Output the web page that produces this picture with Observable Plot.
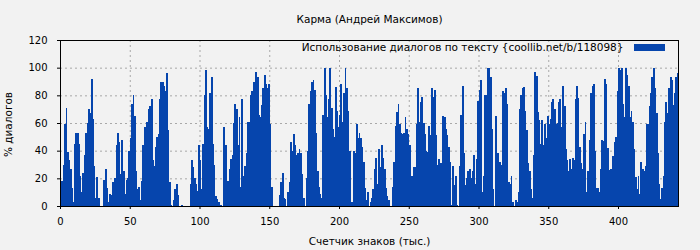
<!DOCTYPE html>
<html><head><meta charset="utf-8">
<script src="https://cdn.jsdelivr.net/npm/d3@7"></script>
<script src="https://cdn.jsdelivr.net/npm/@observablehq/plot@0.6"></script>
<style>
html,body{margin:0;padding:0;background:#f2f2f2;}
</style></head><body><div id="chart"></div>
<script>
const title = "Карма (Андрей Максимов)";
const xLabel = "Счетчик знаков (тыс.)";
const yLabel = "% диалогов";
const seriesName = "Использование диалогов по тексту {coollib.net/b/118098}";
const xTicks = [0, 50, 100, 150, 200, 250, 300, 350, 400];
const yTicks = [0, 20, 40, 60, 80, 100, 120];
const xMax = 443;
// % of dialogue per 1000 characters
const dialogPct = [
  6,18,30,59,71,39,33,27,13,3, 45,53,53,45,22,10,24,37,53,60,
  70,67,92,63,29,6,21,6,0,0, 0,19,27,13,3,9,8,17,12,20,
  44,53,46,23,48,25,9,19,20,40, 49,74,80,65,25,12,14,4,18,44,
  57,28,61,70,72,77,33,29,43,50, 52,77,90,90,87,83,96,55,17,1,
  0,4,12,16,8,0,0,1,0,0, 0,0,0,16,33,28,20,16,11,44,
  33,12,45,80,98,57,56,82,93,45, 30,7,5,3,1,1,0,57,44,3,
  18,27,34,37,60,74,70,44,64,14, 77,22,29,38,61,61,80,83,90,90,
  97,93,66,64,73,85,95,88,85,88, 59,14,0,0,0,0,0,8,17,24,
  6,5,0,10,17,46,40,52,44,37, 38,41,38,23,6,0,20,40,74,83,
  90,91,84,53,25,14,9,6,66,100, 80,64,77,100,71,56,50,86,69,57,
  66,88,61,82,100,85,69,40,3,3, 40,38,59,49,53,49,43,32,13,4,
  10,0,3,6,12,27,35,16,41,28, 44,35,27,13,7,4,0,0,14,32,
  58,68,74,59,53,52,53,64,56,52, 44,22,22,28,28,59,85,61,75,79,
  60,52,40,39,58,51,85,79,84,51, 30,34,31,31,65,64,56,51,43,32,
  1,29,15,22,1,0,29,66,87,38, 15,20,25,27,20,25,37,16,34,76,
  84,91,10,22,80,80,100,100,93,56, 12,0,65,38,32,32,30,83,82,85,
  74,17,16,22,3,0,4,3,10,70, 80,85,86,69,55,31,25,12,6,37,
  97,94,68,62,45,62,44,59,49,65, 59,63,75,77,70,59,60,75,77,57,
  87,72,41,33,25,34,27,35,33,77, 87,78,43,31,27,52,61,10,25,48,
  82,87,88,40,13,13,10,27,48,47, 92,88,42,26,27,17,36,46,50,83,
  100,98,100,74,64,100,95,87,64,69, 61,41,21,12,22,9,32,27,25,29,
  59,59,72,82,93,100,85,67,38,16, 5,13,22,61,75,67,85,93,91,73,
  82,93,96
];

const barColor = "#0645ad";
const bg = "#f2f2f2";
const gridColor = "#a8a8a8";
const W = 700, H = 250, mL = 60, mR = 22, mT = 40, mB = 44;

const data = dialogPct.map((v, i) => ({start: i, end: i + 1, pct: v}));

const font = "DejaVu Sans";
const fs = 10.5;
const plot = Plot.plot({
  width: W, height: H,
  marginLeft: mL, marginRight: mR, marginTop: mT, marginBottom: mB,
  style: {background: bg, fontFamily: font, fontSize: "10px", color: "#000", overflow: "visible"},
  x: {domain: [0, xMax]},
  y: {domain: [0, 120]},
  marks: [
    Plot.gridX(xTicks.filter(t => t > 0), {stroke: gridColor, strokeOpacity: 1, strokeDasharray: "2,3"}),
    Plot.gridY(yTicks.filter(t => t > 0 && t < 120), {stroke: gridColor, strokeOpacity: 1, strokeDasharray: "2,3"}),
    Plot.rectY(data, {x1: "start", x2: "end", y: "pct", fill: barColor, insetRight: -0.5, shapeRendering: "crispEdges"}),
    Plot.axisX({ticks: xTicks, tickSize: 3, tickPadding: 8.5, label: null, fontSize: 10}),
    Plot.axisY({ticks: yTicks, tickSize: 3, tickPadding: 10, label: null, fontSize: 10}),
    Plot.frame({stroke: "#000"}),
    Plot.text([title], {frameAnchor: "top", dy: -20.5, lineAnchor: "middle", fontSize: fs, fill: "#000"}),
    Plot.text([xLabel], {frameAnchor: "bottom", dy: 35, lineAnchor: "middle", fontSize: fs, fill: "#000"}),
    Plot.text([seriesName], {frameAnchor: "top-right", dx: -55, dy: 7.5, lineAnchor: "middle", textAnchor: "end", fontSize: fs, fill: "#000"})
  ]
});

const svg = d3.select(plot);
// y-axis title, rotated, centred on the plot frame
svg.append("text")
  .attr("transform", `translate(8,${(mT + H - mB) / 2 + 1.5}) rotate(-90)`)
  .attr("text-anchor", "middle")
  .attr("dominant-baseline", "central")
  .attr("font-family", font)
  .attr("font-size", fs)
  .attr("fill", "#000")
  .text(yLabel);

// legend swatch, placed relative to the plot frame
svg.append("rect")
  .attr("x", W - mR - 44).attr("y", mT + 4)
  .attr("width", 31).attr("height", 7)
  .attr("fill", barColor);

document.getElementById("chart").appendChild(plot);
</script></body></html>
